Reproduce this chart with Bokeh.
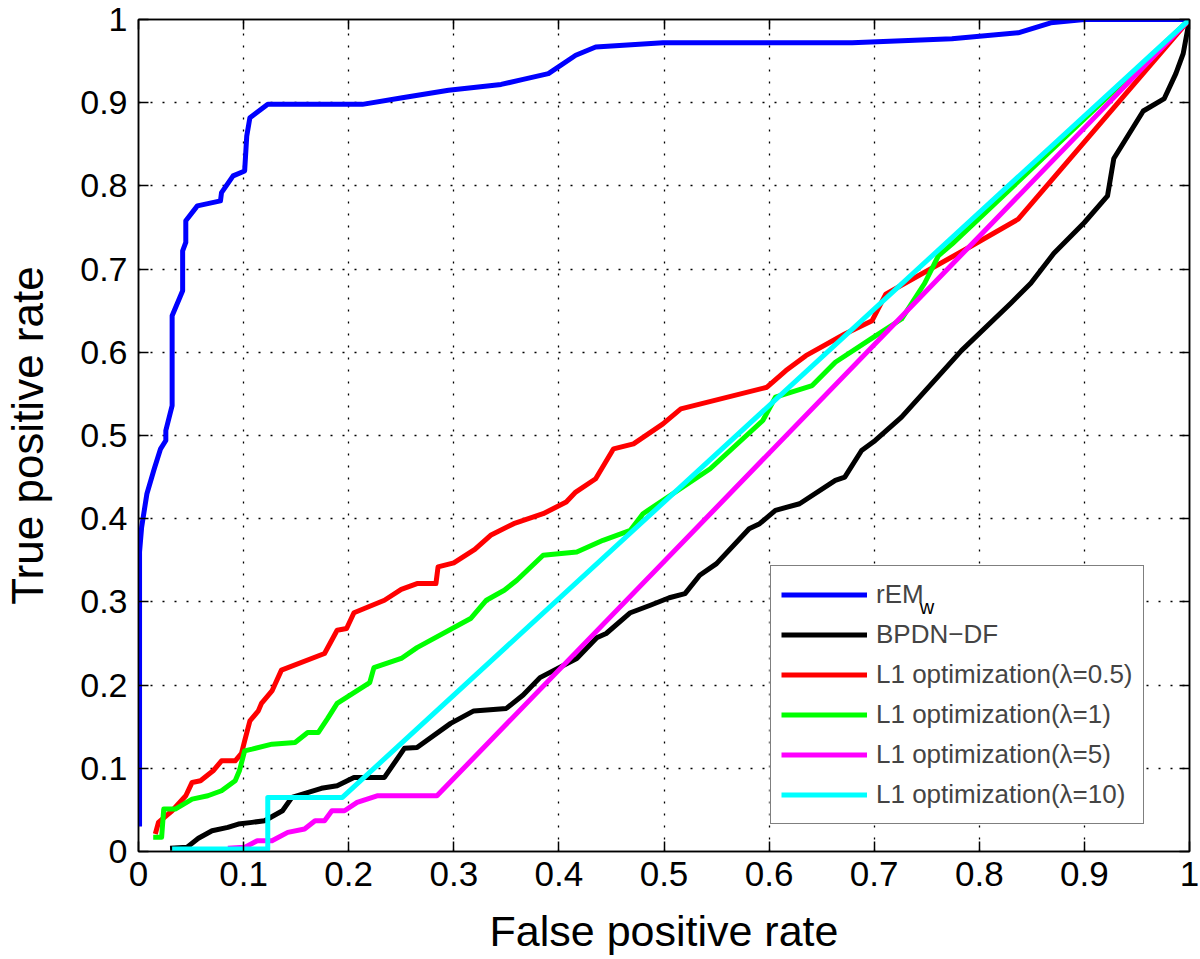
from bokeh.plotting import figure
from bokeh.models import (Range1d, FixedTicker, LinearAxis, Legend, LegendItem, BoxAnnotation)
from bokeh.core.properties import value
from bokeh.embed import file_html
from bokeh.resources import INLINE

# ---------------- data ----------------
tick_vals = [0.0, 0.1, 0.2, 0.3, 0.4, 0.5, 0.6, 0.7, 0.8, 0.9, 1.0]
tick_labels = ["0", "0.1", "0.2", "0.3", "0.4", "0.5", "0.6", "0.7", "0.8", "0.9", "1"]

rem_x = [0.001, 0.001, 0.003, 0.008, 0.015, 0.021, 0.026, 0.026, 0.032, 0.032, 0.042, 0.042,
         0.045, 0.045, 0.056, 0.078, 0.079, 0.090, 0.101, 0.103, 0.106, 0.123, 0.213, 0.251,
         0.295, 0.345, 0.366, 0.390, 0.416, 0.435, 0.499, 0.679, 0.774, 0.837, 0.868, 0.900, 1.0]
rem_y = [0.03, 0.36, 0.39, 0.43, 0.46, 0.484, 0.494, 0.506, 0.536, 0.644, 0.674, 0.722,
         0.732, 0.758, 0.776, 0.782, 0.792, 0.812, 0.818, 0.860, 0.882, 0.898, 0.898, 0.906,
         0.915, 0.922, 0.928, 0.935, 0.957, 0.967, 0.972, 0.972, 0.977, 0.984, 0.996, 1.0, 1.0]

bp_x = [0.030, 0.046, 0.057, 0.070, 0.085, 0.095, 0.108, 0.120, 0.137, 0.146, 0.174, 0.189,
        0.205, 0.234, 0.253, 0.265, 0.297, 0.319, 0.350, 0.366, 0.382, 0.417, 0.436, 0.445,
        0.468, 0.487, 0.505, 0.520, 0.534, 0.550, 0.581, 0.591, 0.606, 0.629, 0.663, 0.672,
        0.688, 0.701, 0.726, 0.783, 0.830, 0.849, 0.871, 0.900, 0.922, 0.928, 0.956, 0.976,
        0.987, 0.994, 1.0]
bp_y = [0.004, 0.005, 0.016, 0.025, 0.029, 0.033, 0.035, 0.037, 0.049, 0.065, 0.076, 0.079,
        0.089, 0.089, 0.124, 0.125, 0.154, 0.169, 0.172, 0.188, 0.209, 0.232, 0.257, 0.262,
        0.287, 0.296, 0.305, 0.310, 0.332, 0.346, 0.388, 0.394, 0.410, 0.418, 0.446, 0.450,
        0.482, 0.494, 0.522, 0.602, 0.659, 0.683, 0.719, 0.756, 0.788, 0.833, 0.890, 0.905,
        0.935, 0.959, 1.0]

l05_x = [0.016, 0.019, 0.032, 0.045, 0.051, 0.059, 0.071, 0.079, 0.092, 0.098, 0.101, 0.106,
         0.114, 0.117, 0.127, 0.136, 0.177, 0.189, 0.198, 0.205, 0.234, 0.250, 0.265, 0.283,
         0.285, 0.300, 0.320, 0.335, 0.357, 0.385, 0.407, 0.416, 0.435, 0.452, 0.471, 0.499,
         0.516, 0.598, 0.616, 0.635, 0.672, 0.698, 0.711, 0.742, 0.790, 0.837, 1.0]
l05_y = [0.021, 0.035, 0.049, 0.067, 0.083, 0.085, 0.097, 0.109, 0.109, 0.118, 0.133, 0.157,
         0.169, 0.178, 0.193, 0.218, 0.238, 0.266, 0.268, 0.287, 0.302, 0.315, 0.322, 0.322,
         0.342, 0.347, 0.363, 0.380, 0.394, 0.406, 0.420, 0.432, 0.448, 0.484, 0.490, 0.514,
         0.532, 0.558, 0.578, 0.596, 0.622, 0.638, 0.670, 0.692, 0.726, 0.760, 1.0]

l1_x = [0.014, 0.022, 0.024, 0.035, 0.051, 0.066, 0.079, 0.092, 0.096, 0.101, 0.108, 0.127,
        0.149, 0.161, 0.171, 0.180, 0.189, 0.220, 0.224, 0.250, 0.265, 0.316, 0.331, 0.348,
        0.360, 0.385, 0.417, 0.442, 0.468, 0.480, 0.544, 0.594, 0.606, 0.641, 0.663, 0.698,
        0.726, 0.748, 0.761, 0.774, 1.0]
l1_y = [0.017, 0.017, 0.051, 0.051, 0.063, 0.067, 0.073, 0.085, 0.097, 0.121, 0.123, 0.129,
        0.131, 0.143, 0.143, 0.160, 0.178, 0.203, 0.221, 0.232, 0.245, 0.280, 0.302, 0.314,
        0.326, 0.356, 0.360, 0.374, 0.386, 0.406, 0.460, 0.518, 0.546, 0.560, 0.588, 0.617,
        0.640, 0.683, 0.716, 0.730, 1.0]

l5_x = [0.085, 0.101, 0.113, 0.127, 0.142, 0.158, 0.168, 0.177, 0.184, 0.196, 0.208, 0.227, 0.284, 1.0]
l5_y = [0.004, 0.005, 0.013, 0.013, 0.023, 0.027, 0.037, 0.037, 0.049, 0.049, 0.059, 0.067, 0.067, 1.0]

l10_x = [0.032, 0.123, 0.123, 0.194, 1.0]
l10_y = [0.003, 0.003, 0.065, 0.065, 1.0]

series = [
    ("rEM", rem_x, rem_y, "#0000FF"),
    ("BPDN\u2212DF", bp_x, bp_y, "#000000"),
    ("L1 optimization(\u03bb=0.5)", l05_x, l05_y, "#FF0000"),
    ("L1 optimization(\u03bb=1)", l1_x, l1_y, "#00FF00"),
    ("L1 optimization(\u03bb=5)", l5_x, l5_y, "#FF00FF"),
    ("L1 optimization(\u03bb=10)", l10_x, l10_y, "#00FFFF"),
]
subscript_text = ["w"]

FONT = "Liberation Sans"

p = figure(width=1200, height=959, output_backend="svg", toolbar_location=None,
           x_range=Range1d(0, 1), y_range=Range1d(0, 1),
           min_border_left=133, min_border_right=11, min_border_top=19, min_border_bottom=108)
p.background_fill_color = "white"
p.border_fill_color = "white"
p.outline_line_color = "black"
p.outline_line_width = 1.5

ticker = FixedTicker(ticks=tick_vals)
overrides = {v: s for v, s in zip(tick_vals, tick_labels)}

for ax in (p.xaxis[0], p.yaxis[0]):
    ax.ticker = ticker
    ax.major_label_overrides = overrides
    ax.major_tick_in = 10
    ax.major_tick_out = 0
    ax.minor_tick_line_color = None
    ax.axis_line_width = 1.5
    ax.major_tick_line_width = 1.5
    ax.axis_line_color = "black"
    ax.major_tick_line_color = "black"
    ax.major_label_text_font = FONT
    ax.major_label_text_color = "black"
    ax.axis_label_text_font = FONT
    ax.axis_label_text_font_style = "normal"
    ax.axis_label_text_color = "black"

p.xaxis.axis_label = "False positive rate"
p.yaxis.axis_label = "True positive rate"
p.xaxis.major_label_text_font_size = "35px"
p.yaxis.major_label_text_font_size = "34px"
p.xaxis.axis_label_text_font_size = "43px"
p.yaxis.axis_label_text_font_size = "44px"
p.xaxis.major_label_standoff = 10
p.yaxis.major_label_standoff = 11
p.xaxis.axis_label_standoff = 18
p.yaxis.axis_label_standoff = 25

for loc in ("above", "right"):
    ax = LinearAxis(ticker=ticker, major_tick_in=10, major_tick_out=0,
                    minor_tick_line_color=None, axis_line_width=1.5,
                    major_tick_line_width=1.5, major_label_text_font_size="1px",
                    major_label_text_color=None, major_label_standoff=0, axis_label=None)
    p.add_layout(ax, loc)

for g in (p.xgrid[0], p.ygrid[0]):
    g.ticker = ticker
    g.grid_line_color = "black"
    g.grid_line_dash = "2 10"
    g.grid_line_width = 1.3

# white panel under the (transparent) legend so the grid does not show through
p.add_layout(BoxAnnotation(left=0.6004, right=0.9536, bottom=0.0337, top=0.3413,
                           fill_color="white", fill_alpha=1.0, line_color=None,
                           level="underlay", editable=False))

renderers = []
for name, xs, ys, col in series:
    r = p.line(xs, ys, line_color=col, line_width=5, line_join="round")
    renderers.append((name, r))

# subscript "w" of rEM_w, placed right after the legend's "rEM"
p.text(x=[0.7434], y=[0.2933], text=subscript_text, text_font=value(FONT),
       text_font_size="20px", text_baseline="alphabetic", text_align="left",
       text_color="black")

legend = Legend(items=[LegendItem(label=n, renderers=[r]) for n, r in renderers],
                location=(632, 27), margin=0, padding=10, spacing=3,
                glyph_width=86, glyph_height=37, label_height=37, label_standoff=9,
                label_text_font=FONT, label_text_font_size="26px",
                border_line_color="black", border_line_width=1.5,
                background_fill_alpha=0.0)
p.add_layout(legend, "center")

open("out.html", "w").write(file_html(p, INLINE))
